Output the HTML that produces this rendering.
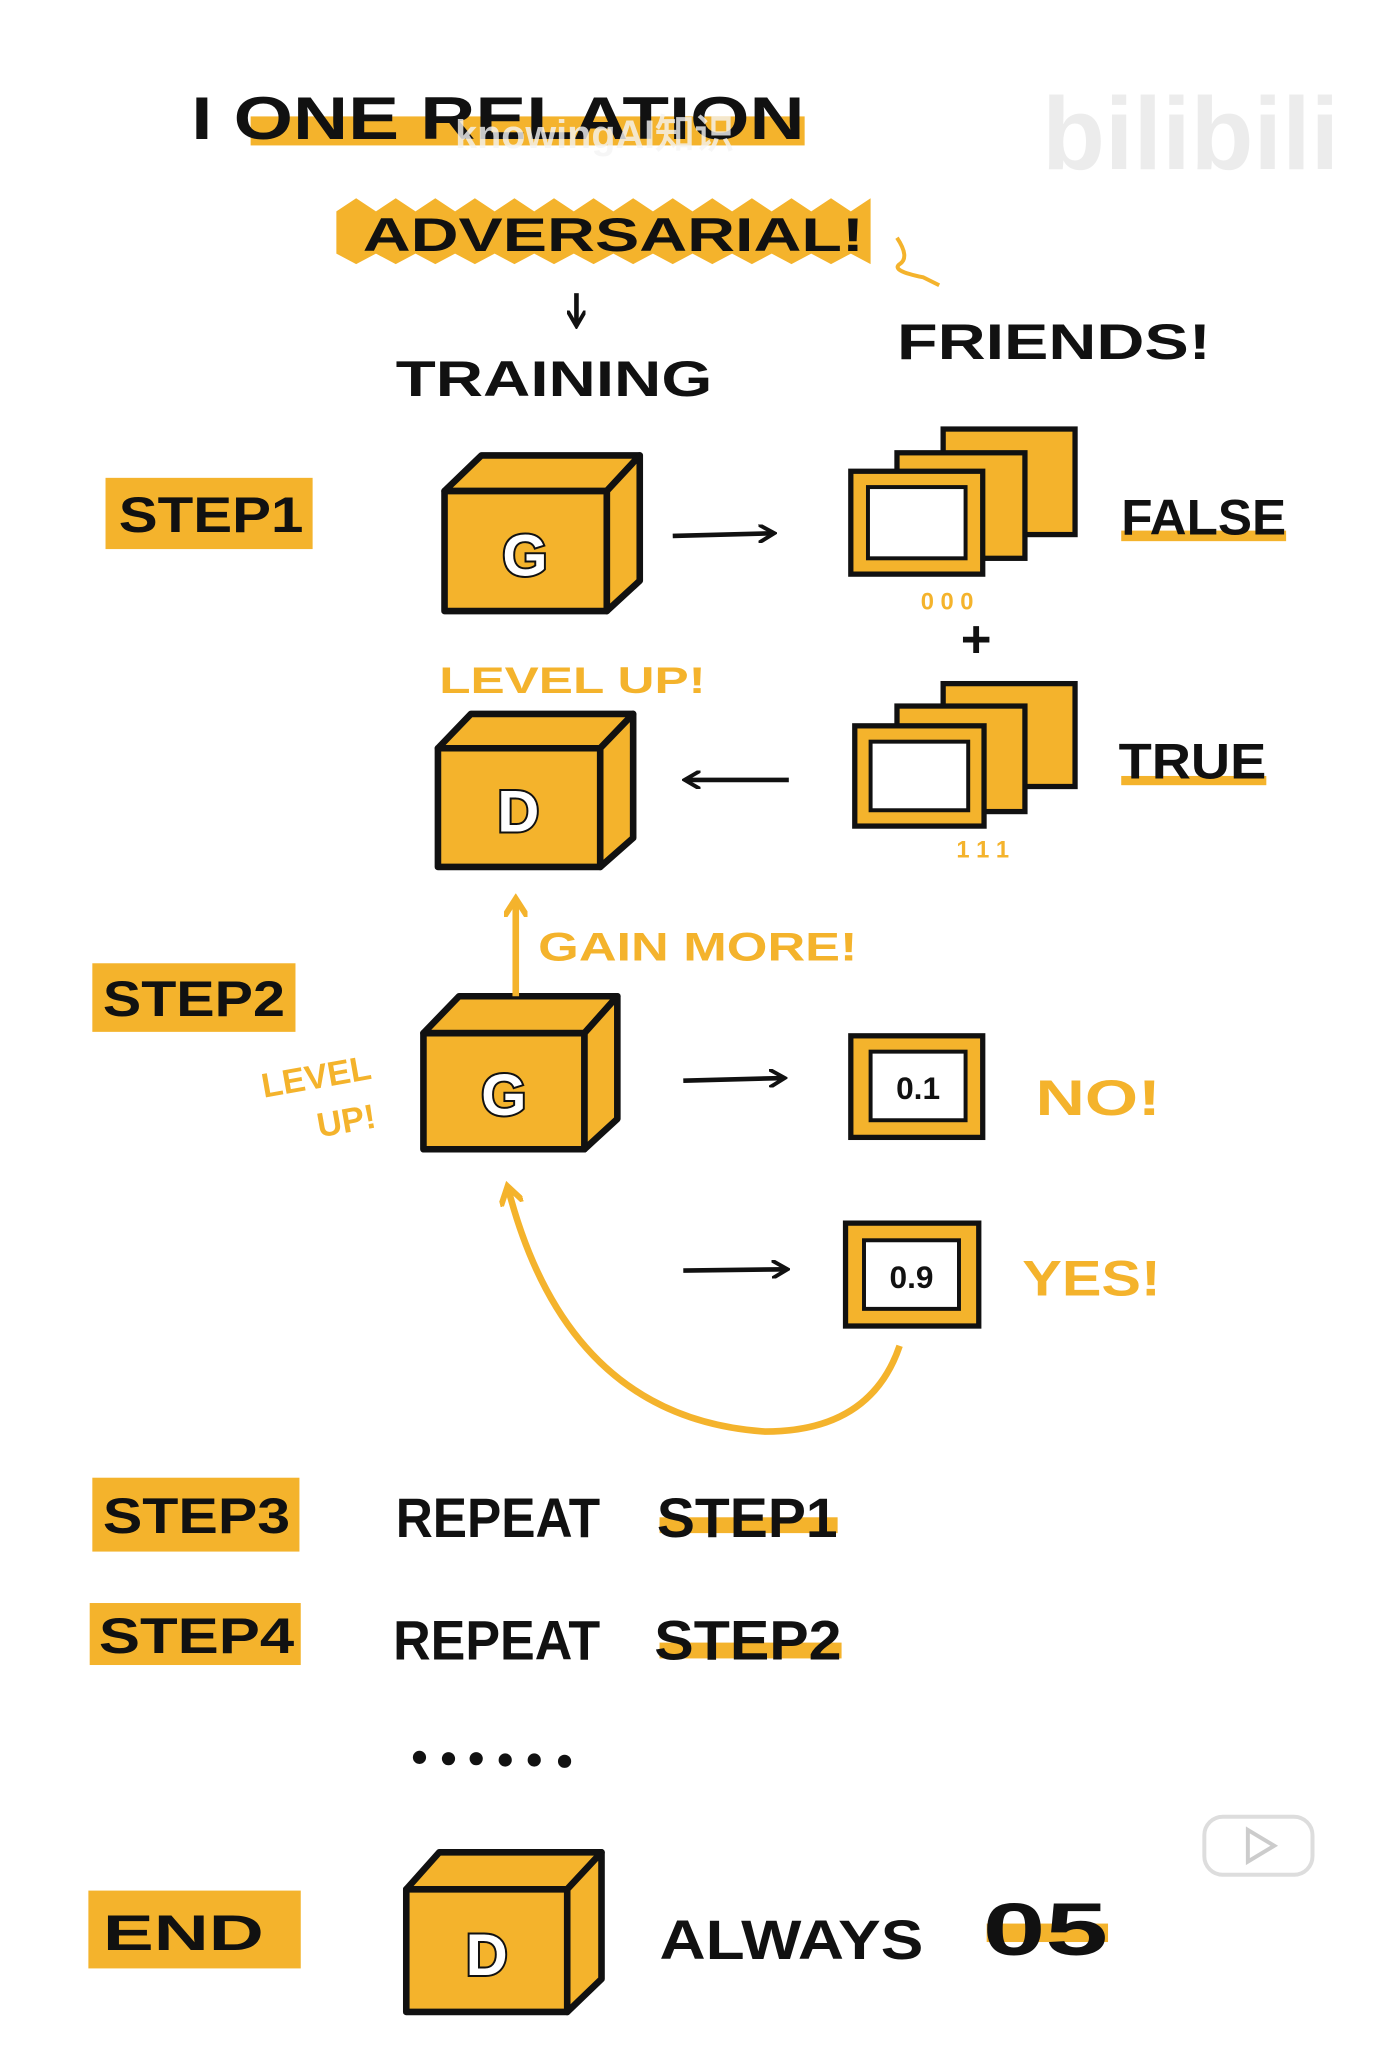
<!DOCTYPE html>
<html><head><meta charset="utf-8"><style>
html,body{margin:0;padding:0;background:#fff;}
svg{display:block;}
text{font-family:"Liberation Sans",sans-serif;font-weight:bold;}
</style></head><body>
<svg width="1389" height="2069" viewBox="0 0 1053 1568" xmlns="http://www.w3.org/2000/svg">
<defs>
<marker id="ab" markerWidth="14" markerHeight="14" refX="11" refY="7" orient="auto" markerUnits="userSpaceOnUse"><path d="M0,0 L12,7 L0,14" fill="none" stroke="#111" stroke-width="3"/></marker>
<marker id="ay" markerWidth="18" markerHeight="18" refX="13" refY="9" orient="auto" markerUnits="userSpaceOnUse"><path d="M0,0 L14,9 L0,18" fill="none" stroke="#f4b32c" stroke-width="4.5"/></marker>
</defs>
<rect width="1053" height="1568" fill="#fff"/>
<text x="790" y="128" font-size="78" fill="#ececec">bilibili</text>
<rect x="190" y="88" width="420" height="22" fill="#f4b32c"/>
<text x="145" y="105" font-size="46" fill="#111" textLength="465" lengthAdjust="spacingAndGlyphs">I ONE RELATION</text>
<text x="345" y="112" font-size="30" fill="#f5f5f5" opacity="0.8">knowingAI知识</text>
<path d="M255,160 L270,150 L285,160 L300,150 L315,160 L330,150 L345,160 L360,150 L375,160 L390,150 L405,160 L420,150 L435,160 L450,150 L465,160 L480,150 L495,160 L510,150 L525,160 L540,150 L555,160 L570,150 L585,160 L600,150 L615,160 L630,150 L645,160 L660,150 L660,200 L645,192 L630,200 L615,192 L600,200 L585,192 L570,200 L555,192 L540,200 L525,192 L510,200 L495,192 L480,200 L465,192 L450,200 L435,192 L420,200 L405,192 L390,200 L375,192 L360,200 L345,192 L330,200 L315,192 L300,200 L285,192 L270,200 L255,192 Z" fill="#f4b32c"/>
<text x="275" y="190" font-size="36" fill="#111" textLength="380" lengthAdjust="spacingAndGlyphs">ADVERSARIAL!</text>
<path d="M437,222 L437,246" stroke="#111" stroke-width="3.5" marker-end="url(#ab)"/>
<path d="M680,180 Q690,195 682,200 Q675,205 700,210 L712,216" stroke="#f4b32c" stroke-width="3" fill="none"/>
<text x="300" y="300" font-size="38" fill="#111" textLength="240" lengthAdjust="spacingAndGlyphs">TRAINING</text>
<text x="680" y="272" font-size="38" fill="#111" textLength="238" lengthAdjust="spacingAndGlyphs">FRIENDS!</text>
<g font-size="38" fill="#111">
<rect x="80" y="362" width="157" height="54" fill="#f4b32c"/><text x="90" y="403" textLength="140" lengthAdjust="spacingAndGlyphs">STEP1</text>
<rect x="70" y="730" width="154" height="52" fill="#f4b32c"/><text x="78" y="770" textLength="138" lengthAdjust="spacingAndGlyphs">STEP2</text>
<rect x="70" y="1120" width="157" height="56" fill="#f4b32c"/><text x="78" y="1162" textLength="142" lengthAdjust="spacingAndGlyphs">STEP3</text>
<rect x="68" y="1215" width="160" height="47" fill="#f4b32c"/><text x="75" y="1253" textLength="148" lengthAdjust="spacingAndGlyphs">STEP4</text>
<rect x="67" y="1433" width="161" height="59" fill="#f4b32c"/><text x="78" y="1478" textLength="122" lengthAdjust="spacingAndGlyphs">END</text>
</g>
<g stroke="#111" stroke-width="5" fill="#f4b32c" stroke-linejoin="round">
<path d="M337,372 L365,345 L485,345 L460,372 Z"/><path d="M460,372 L485,345 L485,440 L460,463 Z"/><rect x="337" y="372" width="123" height="91"/>
<path d="M332,567 L357,541 L480,541 L455,567 Z"/><path d="M455,567 L480,541 L480,635 L455,657 Z"/><rect x="332" y="567" width="123" height="90"/>
<path d="M321,783 L348,755 L468,755 L443,783 Z"/><path d="M443,783 L468,755 L468,848 L443,871 Z"/><rect x="321" y="783" width="122" height="88"/>
<path d="M308,1432 L333,1404 L456,1404 L430,1432 Z"/><path d="M430,1432 L456,1404 L456,1500 L430,1525 Z"/><rect x="308" y="1432" width="122" height="93"/>
</g>
<g font-size="44" fill="#fff" stroke="#111" stroke-width="3" text-anchor="middle" style="paint-order:stroke">
<text x="398" y="436">G</text><text x="393" y="630">D</text><text x="382" y="845">G</text><text x="369" y="1497">D</text>
</g>
<g stroke="#111" stroke-width="4" fill="#f4b32c">
<rect x="715" y="325" width="100" height="80"/><rect x="680" y="343" width="97" height="80"/><rect x="645" y="357" width="100" height="78"/>
<rect x="715" y="518" width="100" height="78"/><rect x="680" y="535" width="97" height="80"/><rect x="648" y="550" width="98" height="76"/>
</g>
<g stroke="#111" stroke-width="3" fill="#fff">
<rect x="658" y="369" width="74" height="54"/><rect x="660" y="562" width="74" height="52"/>
</g>
<text x="698" y="462" font-size="18" fill="#f4b32c">0 0 0</text>
<text x="740" y="498" font-size="40" fill="#111" text-anchor="middle">+</text>
<text x="725" y="650" font-size="18" fill="#f4b32c">1 1 1</text>
<rect x="850" y="402" width="125" height="8" fill="#f4b32c"/>
<text x="850" y="405" font-size="38" fill="#111" textLength="125" lengthAdjust="spacingAndGlyphs">FALSE</text>
<rect x="850" y="588" width="110" height="7" fill="#f4b32c"/>
<text x="848" y="590" font-size="38" fill="#111" textLength="112" lengthAdjust="spacingAndGlyphs">TRUE</text>
<path d="M510,406 L586,404" stroke="#111" stroke-width="3.5" marker-end="url(#ab)"/>
<path d="M598,591 L520,591" stroke="#111" stroke-width="3.5" marker-end="url(#ab)"/>
<path d="M518,819 L594,817" stroke="#111" stroke-width="3.5" marker-end="url(#ab)"/>
<path d="M518,963 L596,962" stroke="#111" stroke-width="3.5" marker-end="url(#ab)"/>
<text x="333" y="525" font-size="28" fill="#f4b32c" textLength="202" lengthAdjust="spacingAndGlyphs">LEVEL UP!</text>
<path d="M391,755 L391,682" stroke="#f4b32c" stroke-width="5" marker-end="url(#ay)"/>
<text x="408" y="728" font-size="30" fill="#f4b32c" textLength="242" lengthAdjust="spacingAndGlyphs">GAIN MORE!</text>
<text x="200" y="832" font-size="26" fill="#f4b32c" transform="rotate(-10 200 832)">LEVEL</text>
<text x="242" y="862" font-size="26" fill="#f4b32c" transform="rotate(-10 242 862)">UP!</text>
<rect x="645" y="785" width="100" height="77" fill="#f4b32c" stroke="#111" stroke-width="4"/>
<rect x="660" y="797" width="72" height="52" fill="#fff" stroke="#111" stroke-width="3"/>
<text x="696" y="833" font-size="24" fill="#111" text-anchor="middle">0.1</text>
<rect x="641" y="927" width="101" height="78" fill="#f4b32c" stroke="#111" stroke-width="4"/>
<rect x="655" y="940" width="72" height="52" fill="#fff" stroke="#111" stroke-width="3"/>
<text x="691" y="976" font-size="24" fill="#111" text-anchor="middle">0.9</text>
<text x="785" y="845" font-size="38" fill="#f4b32c" textLength="95" lengthAdjust="spacingAndGlyphs">NO!</text>
<text x="775" y="982" font-size="38" fill="#f4b32c" textLength="105" lengthAdjust="spacingAndGlyphs">YES!</text>
<path d="M682,1020 Q660,1085 580,1085 Q430,1075 385,900" stroke="#f4b32c" stroke-width="5" fill="none" marker-end="url(#ay)"/>
<g font-size="42" fill="#111">
<rect x="500" y="1150" width="135" height="12" fill="#f4b32c"/>
<text x="300" y="1165" textLength="155" lengthAdjust="spacingAndGlyphs">REPEAT</text><text x="498" y="1165" textLength="137" lengthAdjust="spacingAndGlyphs">STEP1</text>
<rect x="500" y="1245" width="138" height="12" fill="#f4b32c"/>
<text x="298" y="1258" textLength="157" lengthAdjust="spacingAndGlyphs">REPEAT</text><text x="496" y="1258" textLength="142" lengthAdjust="spacingAndGlyphs">STEP2</text>
<g fill="#111"><circle cx="318" cy="1332" r="5"/><circle cx="340" cy="1333" r="5"/><circle cx="361" cy="1333" r="5"/><circle cx="383" cy="1334" r="5"/><circle cx="405" cy="1334" r="5"/><circle cx="428" cy="1335" r="5"/></g>
<text x="500" y="1485" textLength="200" lengthAdjust="spacingAndGlyphs">ALWAYS</text>
<rect x="748" y="1458" width="92" height="14" fill="#f4b32c"/>
<text x="745" y="1482" font-size="56" textLength="95" lengthAdjust="spacingAndGlyphs">05</text>
</g>
<rect x="913" y="1377" width="82" height="44" rx="14" fill="#fff" stroke="#ddd" stroke-width="3"/>
<path d="M946,1387 L966,1399 L946,1411 Z" fill="none" stroke="#ccc" stroke-width="3"/>
</svg>
</body></html>
